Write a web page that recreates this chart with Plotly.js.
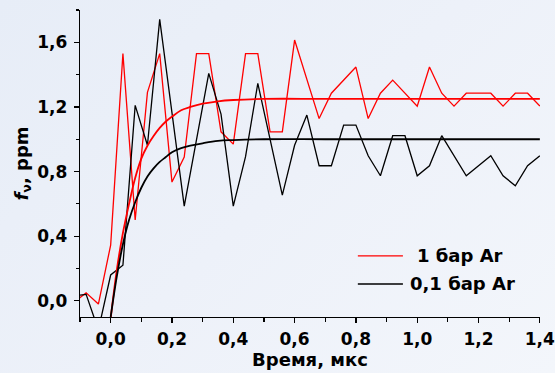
<!DOCTYPE html>
<html>
<head>
<meta charset="utf-8">
<script src="https://cdn.plot.ly/plotly-3.0.1.min.js"></script>
<style>
html,body{margin:0;padding:0;}
body{width:555px;height:373px;background:linear-gradient(135deg,#E7EDF7 0%,#EDF1F9 50%,#F3F6FB 100%);}
#chart{width:555px;height:373px;}
</style>
</head>
<body>
<div id="chart"></div>
<script>
// Noisy measured series (time in µs, f_v in ppm)
const redT = [-0.12,-0.08,-0.04,0,0.04,0.08,0.12,0.16,0.2,0.24,0.28,0.32,0.36,0.4,0.44,0.48,0.52,0.56,0.6,0.68,0.72,0.8,0.84,0.88,0.92,1.0,1.04,1.08,1.12,1.16,1.24,1.28,1.32,1.36,1.4];
const redV = [-0.01,0.05,-0.02,0.345,1.53,0.50,1.29,1.53,0.735,0.89,1.53,1.53,1.046,0.97,1.53,1.53,1.046,1.046,1.614,1.128,1.285,1.447,1.128,1.285,1.366,1.205,1.447,1.285,1.205,1.285,1.285,1.205,1.285,1.285,1.205];

const blackT = [-0.12,-0.08,-0.04,0,0.04,0.08,0.12,0.16,0.24,0.32,0.36,0.4,0.44,0.48,0.56,0.6,0.64,0.68,0.72,0.76,0.8,0.84,0.88,0.92,0.96,1.0,1.04,1.08,1.16,1.24,1.28,1.32,1.36,1.4];
const blackV = [0.03,0.04,-0.18,0.16,0.22,1.21,0.963,1.742,0.586,1.408,1.156,0.586,0.892,1.346,0.654,0.963,1.15,0.836,0.836,1.088,1.088,0.898,0.774,1.022,1.022,0.774,0.836,1.022,0.774,0.898,0.774,0.712,0.836,0.898];

// Smooth fitted curves
const redFitT = [0,0.02,0.04,0.06,0.08,0.10,0.12,0.14,0.16,0.18,0.20,0.23,0.26,0.30,0.35,0.40,0.50,0.70,1.0,1.4];
const redFitV = [-0.11,0.19,0.42,0.60,0.76,0.88,0.96,1.02,1.07,1.11,1.14,1.18,1.20,1.22,1.235,1.243,1.25,1.25,1.25,1.25];
const blackFitT = [0,0.02,0.04,0.06,0.08,0.10,0.12,0.14,0.16,0.18,0.20,0.23,0.26,0.30,0.35,0.40,0.50,0.70,1.0,1.4];
const blackFitV = [-0.1,0.15,0.35,0.50,0.61,0.70,0.77,0.82,0.86,0.89,0.92,0.945,0.96,0.975,0.99,0.995,1.0,1.0,1.0,1.0];

const seriesNames = ['1 бар Ar','0,1 бар Ar'];
const xTitle = 'Время, мкс';
const yTitle = '<i>f</i><sub>ν</sub>, ppm';

const FONT = 'DejaVu Sans, Liberation Sans, Arial, sans-serif';

const traces = [
  {x: redT, y: redV, mode:'lines', name: seriesNames[0], line:{color:'#FF0000', width:1.3}, showlegend:false},
  {x: blackT, y: blackV, mode:'lines', name: seriesNames[1], line:{color:'#000000', width:1.3}, showlegend:false},
  {x: redFitT, y: redFitV, mode:'lines', name: seriesNames[0]+' fit', line:{color:'#FF0000', width:1.8, shape:'spline', smoothing:1}, showlegend:false},
  {x: blackFitT, y: blackFitV, mode:'lines', name: seriesNames[1]+' fit', line:{color:'#000000', width:1.8, shape:'spline', smoothing:1}, showlegend:false}
];

const axisCommon = {
  showline:true, linecolor:'#000', linewidth:1.2,
  ticks:'outside', ticklen:5, tickwidth:1.2, tickcolor:'#000',
  showgrid:false, zeroline:false, tickformat:'.1f', ticklabeloverflow:'allow',
  tickfont:{family:FONT, size:17, weight:'bold', color:'#000'}
};

const layout = {
  width:555, height:373,
  margin:{l:80, r:15, t:10, b:56},
  paper_bgcolor:'rgba(0,0,0,0)', plot_bgcolor:'rgba(0,0,0,0)',
  separators:', ',
  showlegend:false,
  xaxis: Object.assign({}, axisCommon, {
    range:[-0.1,1.4005], tick0:0, dtick:0.2, ticklabelstandoff:1,
    minor:{ticks:'outside', dtick:0.1, tick0:0, ticklen:4, tickwidth:1.2, tickcolor:'#000'},
    title:{text:xTitle, font:{family:FONT, size:18, weight:'bold', color:'#000'}, standoff:5}
  }),
  yaxis: Object.assign({}, axisCommon, {
    range:[-0.1,1.8], tick0:0, dtick:0.4, ticklabelstandoff:3,
    minor:{ticks:'outside', dtick:0.2, tick0:0, ticklen:3, tickwidth:1.2, tickcolor:'#000'},
    title:{text:yTitle, font:{family:FONT, size:18, weight:'bold', color:'#000'}, standoff:4}
  }),
  shapes:[
    {type:'line', xref:'paper', yref:'paper', x0:0.604, x1:0.702, y0:0.199, y1:0.199, line:{color:'#FF0000', width:1.3}},
    {type:'line', xref:'paper', yref:'paper', x0:0.604, x1:0.702, y0:0.1075, y1:0.1075, line:{color:'#000000', width:1.3}}
  ],
  annotations:[
    {xref:'paper', yref:'paper', x:0.728, y:0.199, xanchor:'left', yanchor:'middle', showarrow:false, text:seriesNames[0], font:{family:FONT, size:18, weight:'bold', color:'#000'}},
    {xref:'paper', yref:'paper', x:0.713, y:0.1075, xanchor:'left', yanchor:'middle', showarrow:false, text:seriesNames[1], font:{family:FONT, size:18, weight:'bold', color:'#000'}}
  ]
};

Plotly.newPlot('chart', traces, layout, {staticPlot:true, displayModeBar:false});
</script>
</body>
</html>
